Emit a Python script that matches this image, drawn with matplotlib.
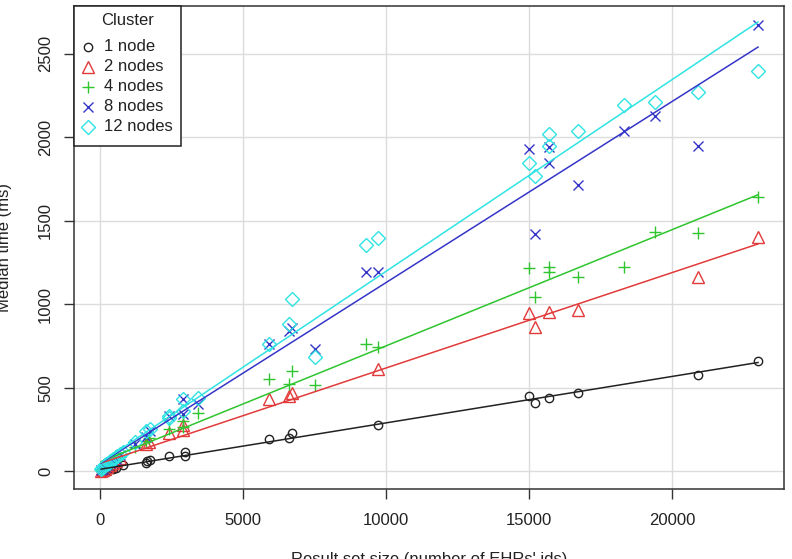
"""
Median query time vs result set size, per cluster size, with linear fits.
"""

import numpy as np
import matplotlib
matplotlib.use("Agg")
import matplotlib.pyplot as plt
from matplotlib.patches import Rectangle

# ---------------------------------------------------------------------------
# Data
# ---------------------------------------------------------------------------

one_node_x = [30, 80, 150, 250, 350, 450, 550, 800, 1600, 1650, 1750, 2400,
              2950, 2950, 5900, 6600, 6700, 9700, 15000, 15200, 15700, 16700,
              20900, 23000]
one_node_y = [2, 4, 6, 9, 12, 15, 18, 34, 50, 60, 68, 90, 112, 92, 193, 199,
              229, 279, 452, 408, 438, 468, 577, 660]

two_nodes_x = [30, 80, 150, 250, 350, 450, 550, 700, 1600, 1720, 2400, 2900,
               2900, 5900, 6600, 6700, 9700, 15000, 15200, 15700, 16700,
               20900, 23000]
two_nodes_y = [3, 8, 15, 25, 38, 48, 60, 80, 160, 172, 229, 279, 245, 432,
               448, 468, 611, 945, 865, 955, 965, 1163, 1402]

four_nodes_x = [30, 80, 150, 250, 350, 450, 550, 700, 1200, 1600, 1700, 2400,
                2900, 2900, 3400, 5900, 6600, 6700, 7500, 9300, 9700, 15000,
                15200, 15700, 15700, 16700, 18300, 19400, 20900, 23000]
four_nodes_y = [4, 10, 18, 30, 42, 55, 68, 85, 145, 180, 200, 255, 298, 262,
                348, 551, 523, 597, 513, 760, 746, 1217, 1044, 1223, 1193,
                1160, 1223, 1432, 1428, 1641]

eight_nodes_x = [30, 80, 150, 250, 350, 450, 550, 700, 1200, 1600, 1750, 2400,
                 2900, 2900, 3400, 5900, 6600, 6700, 7500, 9300, 9700, 15000,
                 15200, 15700, 15700, 16700, 18300, 19400, 20900, 23000]
eight_nodes_y = [8, 15, 25, 38, 50, 62, 75, 95, 165, 205, 239, 328, 432, 344,
                 400, 760, 841, 855, 730, 1190, 1190, 1930, 1422, 1943, 1846,
                 1715, 2039, 2128, 1949, 2671]

twelve_nodes_x = [20, 50, 80, 120, 160, 200, 250, 300, 350, 400, 450, 500,
                  600, 700, 800, 1200, 1600, 1750, 2400, 2400, 2900, 2900,
                  3400, 5900, 6600, 6700, 7500, 9300, 9700, 15000, 15200,
                  15700, 15700, 16700, 18300, 19400, 20900, 23000]
twelve_nodes_y = [15, 20, 25, 30, 35, 40, 45, 50, 60, 65, 70, 80, 90, 100,
                  115, 173, 239, 253, 318, 330, 432, 360, 438, 762, 879, 1029,
                  686, 1357, 1393, 1844, 1770, 2019, 1949, 2039, 2194, 2208,
                  2273, 2397]

labels = ["1 node", "2 nodes", "4 nodes", "8 nodes", "12 nodes"]
colors = ["#222222", "#e23a3a", "#2ec52e", "#3535c8", "#2fe3e3"]
markers = ["o", "^", "+", "x", "D"]
msizes = [6.0, 8.0, 8.0, 6.5, 7.5]

series = [
    (one_node_x, one_node_y),
    (two_nodes_x, two_nodes_y),
    (four_nodes_x, four_nodes_y),
    (eight_nodes_x, eight_nodes_y),
    (twelve_nodes_x, twelve_nodes_y),
]


def main() -> None:
    plt.rcParams["font.family"] = ["Liberation Sans", "DejaVu Sans"]

    fig = plt.figure(figsize=(7.92, 5.59), dpi=100)
    W, H = 792, 559
    left, right, top, bottom = 74, 784.3, 5.7, 489
    ax = fig.add_axes([left / W, 1 - bottom / H,
                       (right - left) / W, (bottom - top) / H])

    for (xs, ys), col, mk, ms in zip(series, colors, markers, msizes):
        ax.plot(xs, ys, linestyle="none", marker=mk, markersize=ms,
                markerfacecolor="none", markeredgecolor=col,
                markeredgewidth=1.0, zorder=3)

    # linear fits, drawn over the observed x range
    for (xs, ys), col in zip(series, colors):
        xs = np.asarray(xs, float)
        b, a = np.polyfit(xs, np.asarray(ys, float), 1)
        xr = np.array([xs.min(), xs.max()])
        ax.plot(xr, a + b * xr, color=col, linewidth=1.1, zorder=4)

    ax.set_xlim(-920, 23920)
    ax.set_ylim(-107, 2787)
    ax.set_xticks([0, 5000, 10000, 15000, 20000])
    ax.set_yticks([0, 500, 1000, 1500, 2000, 2500])
    ax.grid(True, color="#dcdcdc", linewidth=1.0, zorder=0)
    ax.set_axisbelow(True)

    for sp in ax.spines.values():
        sp.set_color("#333333")
        sp.set_linewidth(1.1)
    ax.tick_params(axis="both", direction="out", length=7.5, width=1.0,
                   color="#333333", labelsize=12, labelcolor="#222222")
    ax.tick_params(axis="x", pad=10)
    ax.tick_params(axis="y", pad=7.5)
    for lab in ax.get_yticklabels():
        lab.set_rotation(90)
        lab.set_va("center")

    # axis titles sit partly outside the saved image, as in the reference
    fig.text(5 / W, 1 - 247 / H, "Median time (ms)", rotation=90,
             ha="center", va="center", fontsize=12, color="#222222")
    fig.text(429 / W, 1 - 552 / H, "Result set size (number of EHRs' ids)",
             ha="center", va="top", fontsize=12, color="#222222")

    # legend box drawn in pixel space on an overlay, R style
    ov = fig.add_axes([0, 0, 1, 1], facecolor="none")
    ov.set_xlim(0, W)
    ov.set_ylim(H, 0)
    ov.axis("off")
    ov.add_patch(Rectangle((left, top), 106.7, 140, facecolor="white",
                           edgecolor="#222222", linewidth=1.1, zorder=5))
    ov.text(127.5, 20.7, "Cluster", ha="center", va="center", fontsize=12,
            color="#222222", zorder=6)
    for i, (lab, col, mk, ms) in enumerate(zip(labels, colors, markers, msizes)):
        yy = 46.7 + 20 * i
        ov.plot([88.3], [yy], linestyle="none", marker=mk, markersize=ms,
                markerfacecolor="none", markeredgecolor=col,
                markeredgewidth=1.0, zorder=6)
        ov.text(104, yy, lab, ha="left", va="center", fontsize=12,
                color="#222222", zorder=6)

    fig.savefig("out.png", dpi=100)
    plt.close(fig)


if __name__ == "__main__":
    main()
